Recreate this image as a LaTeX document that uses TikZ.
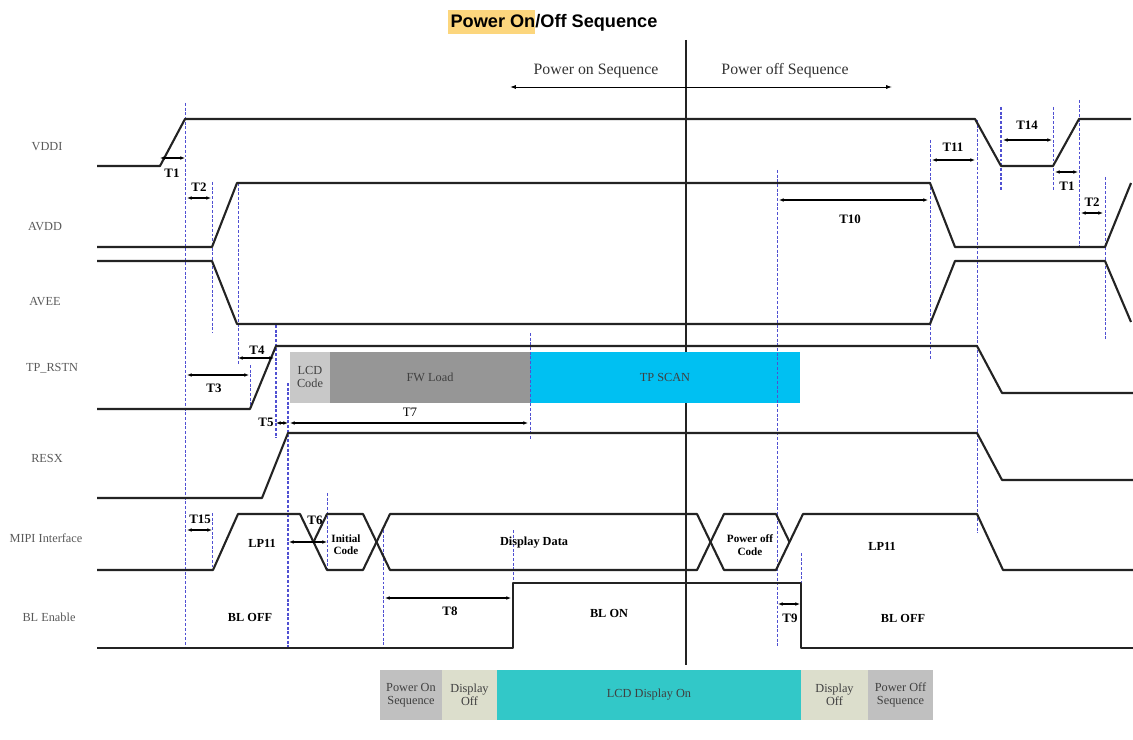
\documentclass[tikz,border=0pt]{standalone}
\usepackage{fontspec}
\setmainfont{Liberation Serif}
\setsansfont{Liberation Sans}
\usetikzlibrary{arrows.meta}
\definecolor{wavecol}{RGB}{35,35,35}
\definecolor{guidecol}{RGB}{80,80,210}
\definecolor{scancyan}{RGB}{0,192,242}
\definecolor{lcdteal}{RGB}{50,200,200}
\definecolor{fwgray}{RGB}{150,150,150}
\definecolor{codegray}{RGB}{200,200,200}
\definecolor{seqgray}{RGB}{192,192,192}
\definecolor{offbeige}{RGB}{220,222,204}
\definecolor{titlehl}{RGB}{252,214,125}
\tikzset{
    wave/.style={draw=wavecol, line width=1.8pt, line join=round},
    guide/.style={draw=guidecol, line width=0.6pt, dash pattern=on 2.5pt off 1.5pt},
    guidebold/.style={guide, line width=1.1pt},
    dim/.style={draw=black, line width=0.9pt, {Latex[length=4pt,width=3.2pt]}-{Latex[length=4pt,width=3.2pt]}},
    seqarrow/.style={draw=black, line width=0.8pt, -{Latex[length=5pt,width=3.5pt]}},
    siglabel/.style={text=black!65, font=\fontsize{10.5}{12}\selectfont},
    tlabel/.style={font=\fontsize{11}{12}\selectfont\bfseries, inner sep=1pt},
    statelabel/.style={font=\fontsize{10.5}{12}\selectfont\bfseries, inner sep=1pt, align=center},
    blocktext/.style={font=\fontsize{10.5}{11.5}\selectfont, text=black!75, align=center, inner sep=1pt}
}

\begin{document}
\begin{tikzpicture}[x=0.03cm, y=-0.03cm]
    \useasboundingbox (0,0) rectangle (1133,740);

    % Title
    \fill[titlehl] (448,10) rectangle (535,34);
    \node[font=\sffamily\bfseries\fontsize{15.5}{17}\selectfont] (title) at (554,23) {Power On/Off Sequence};

    % Power on / off split
    \coordinate (split) at (686,87);
    \coordinate (onend) at (510,87);
    \coordinate (offend) at (892,87);
    \draw[line width=1pt, draw=wavecol] (686,40) -- (686,665);
    \draw[seqarrow] (split) -- (onend);
    \draw[seqarrow] (split) -- (offend);
    \node[font=\fontsize{13.5}{15}\selectfont, text=black!80] (onseq) at (596,71) {Power on Sequence};
    \node[font=\fontsize{13.5}{15}\selectfont, text=black!80] (offseq) at (785,71) {Power off Sequence};

    % Signal names
    \node[siglabel] (vddi) at (47,147) {VDDI};
    \node[siglabel] (avdd) at (45,227) {AVDD};
    \node[siglabel] (avee) at (45,302) {AVEE};
    \node[siglabel] (tprstn) at (52,368) {TP\_RSTN};
    \node[siglabel] (resx) at (47,458) {RESX};
    \node[siglabel] (mipi) at (46,538) {MIPI Interface};
    \node[siglabel] (blen) at (49,617) {BL Enable};

    % TP_RSTN blocks
    \fill[codegray] (290,352) rectangle (330,403);
    \fill[fwgray] (330,352) rectangle (530,403);
    \fill[scancyan] (530,352) rectangle (800,403);
    \node[blocktext] (lcdcode) at (310,377) {LCD\\Code};
    \node[blocktext] (fwload) at (430,377) {FW Load};
    \node[blocktext] (tpscan) at (665,377) {TP SCAN};

    % Display state blocks
    \fill[seqgray] (380,670) rectangle (442,720);
    \fill[offbeige] (442,670) rectangle (497,720);
    \fill[lcdteal] (497,670) rectangle (801,720);
    \fill[offbeige] (801,670) rectangle (868,720);
    \fill[seqgray] (868,670) rectangle (933,720);
    \node[blocktext] (pwronseq) at (411,695) {Power On\\Sequence};
    \node[blocktext] (dispoff1) at (469.5,695) {Display\\Off};
    \node[blocktext] (lcdon) at (649,695) {LCD Display On};
    \node[blocktext] (dispoff2) at (834.5,695) {Display\\Off};
    \node[blocktext] (pwroffseq) at (900.5,695) {Power Off\\Sequence};

    % Guide lines
    \foreach \gx/\gy/\gz in {185/103/648, 212/182/332, 238/183/365, 250/365/409,
        212/513/570, 327/493/570, 383/530/648, 513/530/583, 530/333/440,
        777/170/648, 801/553/583, 930/140/360, 977/120/533, 1053/107/190,
        1079/100/247, 1105/177/340}
        \draw[guide] (\gx,\gy) -- (\gx,\gz);
    \foreach \gx/\gy/\gz in {276/325/438, 288/383/648, 1001/107/190}
        \draw[guidebold] (\gx,\gy) -- (\gx,\gz);

    % Waveforms
    \draw[wave] (97,166) -- (160,166) -- (185,119) -- (975,119) -- (1001,166) -- (1053,166) -- (1079,119) -- (1131,119);
    \draw[wave] (97,247) -- (212,247) -- (237,183) -- (930,183) -- (955,247) -- (1105,247) -- (1131,183);
    \draw[wave] (97,261) -- (212,261) -- (237,324) -- (930,324) -- (955,261) -- (1105,261) -- (1131,322);
    \draw[wave] (97,409) -- (250,409) -- (276,346) -- (977,346) -- (1002,393) -- (1133,393);
    \draw[wave] (97,498) -- (262,498) -- (288,433) -- (977,433) -- (1002,480) -- (1133,480);
    % MIPI bus
    \draw[wave] (97,570) -- (213,570) -- (238,514) -- (300,514) -- (327,570) -- (363,570) -- (390,514) -- (697,514) -- (724,570) -- (776,570) -- (803,514) -- (977,514) -- (1003,570) -- (1133,570);
    \draw[wave] (313.5,542) -- (327,514) -- (363,514) -- (390,570) -- (697,570) -- (724,514) -- (776,514) -- (789.5,542);
    % BL enable
    \draw[wave] (97,648) -- (513,648) -- (513,583) -- (801,583) -- (801,648) -- (1133,648);

    % State labels
    \node[statelabel] (lp11a) at (262,543) {LP11};
    \node[statelabel, font=\fontsize{9.5}{10.5}\selectfont\bfseries] (initcode) at (346,545) {Initial\\Code};
    \node[statelabel] (dispdata) at (534,543) {Display Data};
    \node[statelabel, font=\fontsize{9.5}{10.5}\selectfont\bfseries] (offcode) at (750,545) {Power off\\Code};
    \node[statelabel] (lp11b) at (882,546) {LP11};
    \node[statelabel] (bloff1) at (250,617) {BL OFF};
    \node[statelabel] (blon) at (609,613) {BL ON};
    \node[statelabel] (bloff2) at (903,618) {BL OFF};

    % Timing arrows
    \draw[dim] (160,158) -- (185,158);   \node[tlabel] (t1a) at (172,173) {T1};
    \draw[dim] (187,198) -- (211,198);   \node[tlabel] (t2a) at (199,187) {T2};
    \draw[dim] (187,375) -- (249,375);   \node[tlabel] (t3) at (214,388) {T3};
    \draw[dim] (238,358) -- (274,358);   \node[tlabel] (t4) at (257,350) {T4};
    \draw[dim] (276,423) -- (288,423);   \node[tlabel] (t5) at (266,422) {T5};
    \draw[dim] (290,423) -- (528,423);   \node[tlabel, font=\fontsize{11}{12}\selectfont] (t7) at (410,412) {T7};
    \draw[dim] (187,530) -- (212,530);   \node[tlabel] (t15) at (200,519) {T15};
    \draw[dim] (289,542) -- (327,542);   \node[tlabel] (t6) at (315,520) {T6};
    \draw[dim] (385,598) -- (511,598);   \node[tlabel] (t8) at (450,611) {T8};
    \draw[dim] (778,604) -- (800,604);   \node[tlabel] (t9) at (790,618) {T9};
    \draw[dim] (779,200) -- (928,200);   \node[tlabel] (t10) at (850,219) {T10};
    \draw[dim] (932,160) -- (975,160);   \node[tlabel] (t11) at (953,147) {T11};
    \draw[dim] (1003,140) -- (1052,140); \node[tlabel] (t14) at (1027,125) {T14};
    \draw[dim] (1055,172) -- (1078,172); \node[tlabel] (t1b) at (1067,186) {T1};
    \draw[dim] (1081,213) -- (1103,213); \node[tlabel] (t2b) at (1092,202) {T2};

\end{tikzpicture}
\end{document}
